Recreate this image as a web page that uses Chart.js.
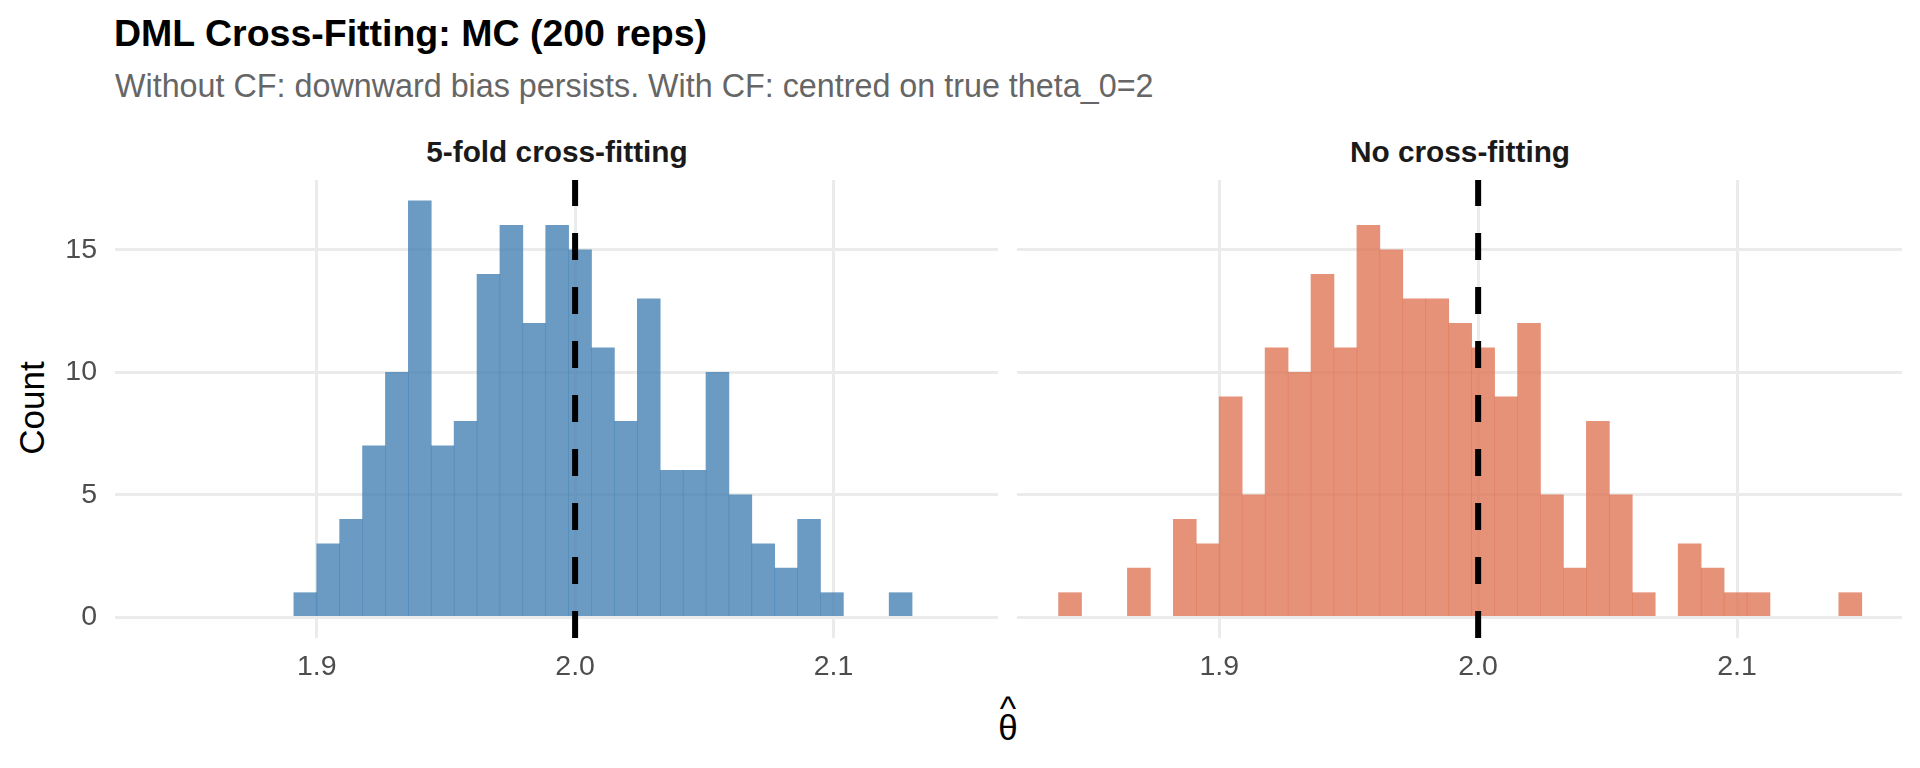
<!DOCTYPE html>
<html>
<head>
<meta charset="utf-8">
<script src="https://cdn.jsdelivr.net/npm/chart.js@4.4.1/dist/chart.umd.min.js"></script>
<style>
  html, body { margin: 0; padding: 0; background: #fff; }
  body { position: relative; width: 1920px; height: 768px; overflow: hidden;
         font-family: "Liberation Sans", Arial, sans-serif; }
  .txt { position: absolute; white-space: nowrap; }
  #title { left: 114px; top: 15px; font-size: 37.5px; line-height: 37.5px; font-weight: bold; color: #000; }
  #subtitle { left: 115px; top: 70px; font-size: 32.3px; line-height: 32.3px; color: #666; }
  .strip { top: 137px; font-size: 29.8px; line-height: 29.8px; font-weight: bold; color: #1a1a1a;
           transform: translateX(-50%); }
  #ytitle { left: 31px; top: 408px; font-size: 35px; line-height: 35px; color: #000;
            transform: translate(-50%, -50%) rotate(-90deg); }
  #xtitle { left: 1008px; top: 710px; font-size: 35px; line-height: 35px; color: #000;
            transform: translateX(-50%); }
  #xtitle .hat { position: absolute; left: 50%; top: -19px; transform: translateX(-50%); }
  canvas { position: absolute; }
  #cf { left: 0; top: 160px; }
  #nocf { left: 1000px; top: 160px; }
</style>
</head>
<body>
<div id="title" class="txt">DML Cross-Fitting: MC (200 reps)</div>
<div id="subtitle" class="txt">Without CF: downward bias persists. With CF: centred on true theta_0=2</div>
<div class="txt strip" style="left:557px">5-fold cross-fitting</div>
<div class="txt strip" style="left:1460px">No cross-fitting</div>
<div id="ytitle" class="txt">Count</div>
<div id="xtitle" class="txt">θ<span class="hat">^</span></div>
<canvas id="cf" width="1000" height="550"></canvas>
<canvas id="nocf" width="920" height="550"></canvas>
<script>
// histogram bins (shared across facets)
const binStart = 1.83796
const binWidth = 0.008863

// counts per bin, 35 bins
const countsCF = [0, 0, 0, 0, 0, 0, 1, 3, 4, 7, 10, 17, 7, 8, 14, 16, 12, 16, 15, 11,
  8, 13, 6, 6, 10, 5, 3, 2, 4, 1, 0, 0, 1, 0, 0]
const countsNoCF = [1, 0, 0, 2, 0, 4, 3, 9, 5, 11, 10, 14, 11, 16, 15, 13, 13, 12, 11, 9,
  12, 5, 2, 8, 5, 1, 0, 3, 2, 1, 1, 0, 0, 0, 1]

const xTicks = [1.9, 2.0, 2.1]
const yTicks = [0, 5, 10, 15]
const xRange = [1.8219, 2.1637]
const yRange = [-0.85, 17.85]
const theta0 = 2

Chart.defaults.font.family = "'Liberation Sans', Arial, sans-serif"
Chart.defaults.color = '#4d4d4d'

// empty bins stay in the data (keeps the bar ruler even) but draw nothing
function binData (counts) {
  return counts.map((c, i) => ({ x: binStart + (i + 0.5) * binWidth, y: c || null }))
}

function makePanel (id, counts, color, showY, padding) {
  return new Chart(document.getElementById(id), {
    type: 'bar',
    data: {
      datasets: [
        {
          type: 'line',
          data: [{ x: theta0, y: yRange[0] }, { x: theta0, y: yRange[1] }],
          borderColor: '#000',
          borderWidth: 6,
          borderDash: [27, 27],
          pointRadius: 0,
          order: 0
        },
        {
          data: binData(counts),
          backgroundColor: color,
          borderWidth: 0,
          barPercentage: 1,
          categoryPercentage: 1,
          order: 1
        }
      ]
    },
    options: {
      responsive: false,
      devicePixelRatio: 1,
      animation: false,
      layout: { padding },
      plugins: { legend: { display: false }, tooltip: { enabled: false } },
      scales: {
        x: {
          type: 'linear',
          offset: false,
          min: xRange[0],
          max: xRange[1],
          afterBuildTicks: s => { s.ticks = xTicks.map(v => ({ value: v })) },
          afterFit: s => { s.height = 72 },
          ticks: { font: { size: 28.5 }, padding: 12, autoSkip: false, callback: v => v.toFixed(1) },
          grid: { color: '#ebebeb', lineWidth: 3, drawTicks: false, offset: false },
          border: { display: false }
        },
        y: {
          min: yRange[0],
          max: yRange[1],
          afterBuildTicks: s => { s.ticks = yTicks.map(v => ({ value: v })) },
          afterFit: s => {
            s.width = showY ? 115 : 0
            s.paddingTop = 0
            s.paddingBottom = 0
          },
          ticks: { display: showY, font: { size: 28.5 }, padding: 18 },
          grid: { color: '#ebebeb', lineWidth: 3, drawTicks: false },
          border: { display: false }
        }
      }
    }
  })
}

makePanel('cf', countsCF, 'rgba(70,130,180,0.8)', true, { top: 20, right: 2, left: 0, bottom: 0 })
makePanel('nocf', countsNoCF, 'rgba(224,119,86,0.8)', false, { top: 20, right: 18, left: 17, bottom: 0 })
</script>
</body>
</html>
